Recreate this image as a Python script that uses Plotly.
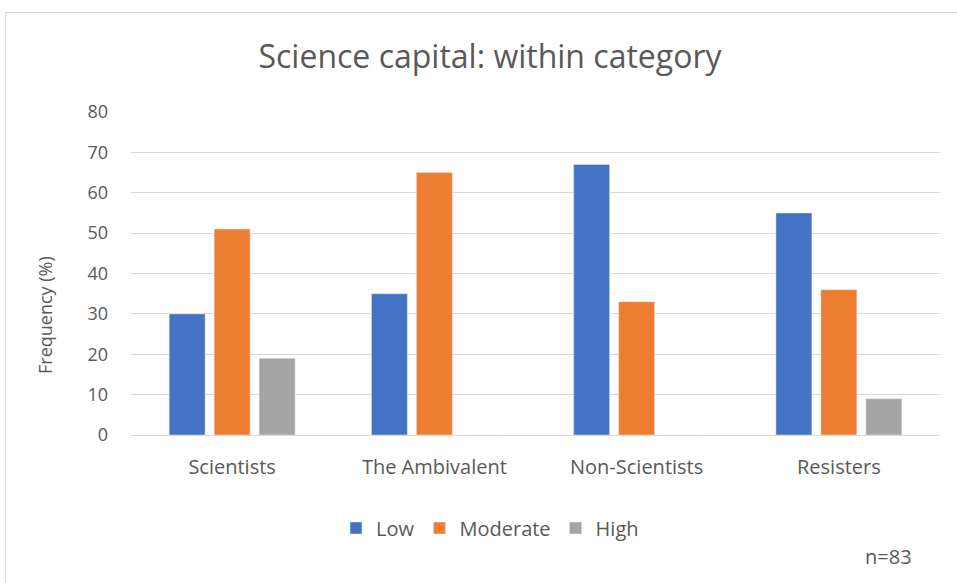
import plotly.graph_objects as go

categories = ["Scientists", "The Ambivalent", "Non-Scientists", "Resisters"]
low = [30, 35, 67, 55]
moderate = [51, 65, 33, 36]
high = [19, 0, 0, 9]

FONT = "Open Sans"
GREY = "#595959"

# plot area in pixels (957x583 window)
L, R, T, B = 131, 940, 112, 435
W, H = 957, 583


def px(x):
    return (x - L) / (R - L)


def py(y):
    return (B - y) / (B - T)


fig = go.Figure()
fig.add_trace(go.Bar(name="Low", x=categories, y=low, marker_color="#4472C4"))
fig.add_trace(go.Bar(name="Moderate", x=categories, y=moderate, marker_color="#ED7D31"))
fig.add_trace(go.Bar(name="High", x=categories, y=high, marker_color="#A5A5A5"))

fig.update_layout(
    width=W, height=H,
    margin=dict(l=L, r=W - R, t=T, b=H - B),
    plot_bgcolor="white", paper_bgcolor="white",
    barmode="group", bargap=0.333, bargroupgap=0.2,
    font=dict(family=FONT, color=GREY, size=18),
    title=dict(text="Science capital: within category", x=px(490), xref="paper",
               xanchor="center", y=1 - 57 / H, yanchor="middle",
               font=dict(size=32, color=GREY)),
    legend=dict(orientation="h", x=px(490), xanchor="center", y=py(528), yanchor="middle",
                font=dict(size=20, color=GREY), itemwidth=30),
    showlegend=True,
)

fig.update_yaxes(range=[0, 80], dtick=10, showgrid=True, gridcolor="#d9d9d9", gridwidth=1,
                 zeroline=False, showline=False, ticks="", ticklen=0,
                 ticklabelstandoff=22, tickfont=dict(size=18))
fig.update_xaxes(showline=True, linecolor="#d9d9d9", linewidth=1, ticks="",
                 ticklabelstandoff=14, tickfont=dict(size=20))

fig.add_annotation(text="Frequency (%)", x=px(45), y=py(315), xref="paper", yref="paper",
                   textangle=-90, showarrow=False, xanchor="center", yanchor="middle",
                   font=dict(size=18, color=GREY))
fig.add_annotation(text="n=83", x=px(888), y=py(556), xref="paper", yref="paper",
                   showarrow=False, xanchor="center", yanchor="middle",
                   font=dict(size=20, color=GREY))

# outer chart border
fig.add_shape(type="rect", xref="paper", yref="paper",
              x0=px(5.5), x1=px(990), y0=py(620), y1=py(12.5),
              line=dict(color="#d9d9d9", width=1), fillcolor="rgba(0,0,0,0)", layer="below")

fig.write_html("out.html", config={"displayModeBar": False},
               post_script="document.body.style.margin='0px';document.body.style.overflow='hidden';")
